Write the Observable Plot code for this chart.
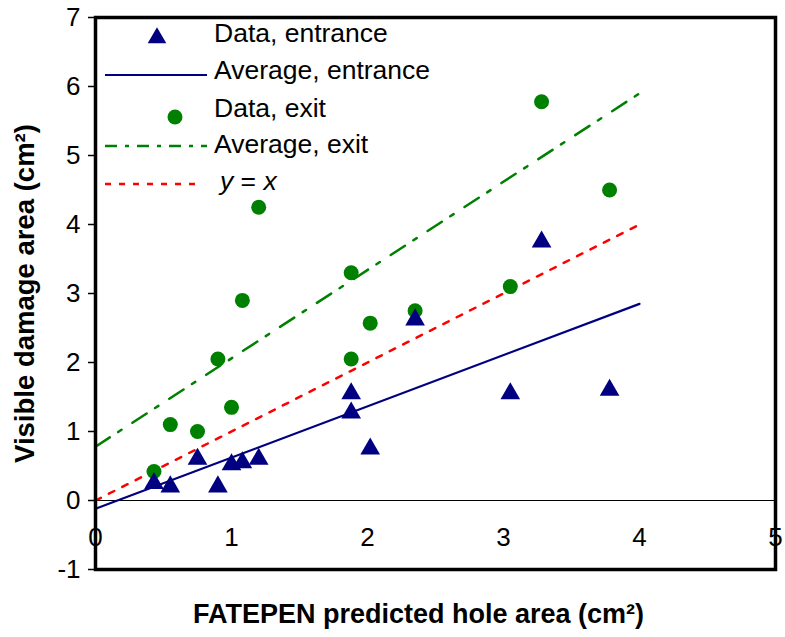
<!DOCTYPE html>
<html>
<head>
<meta charset="utf-8">
<script src="https://cdn.jsdelivr.net/npm/d3@7"></script>
<script src="https://cdn.jsdelivr.net/npm/@observablehq/plot@0.6"></script>
<style>
  html, body { margin: 0; padding: 0; background: #fff; }
  #chart { position: relative; width: 785px; height: 637px; }
</style>
</head>
<body>
<div id="chart"></div>
<script>
// ---- data ----
const entranceX = [0.43, 0.55, 0.75, 0.90, 1.00, 1.08, 1.20, 1.88, 1.88, 2.02, 2.35, 3.05, 3.28, 3.78];
const entranceY = [0.25, 0.20, 0.60, 0.20, 0.52, 0.55, 0.60, 1.55, 1.27, 0.75, 2.62, 1.55, 3.75, 1.60];
const exitX     = [0.43, 0.55, 0.75, 0.90, 1.00, 1.08, 1.20, 1.88, 1.88, 2.02, 2.35, 3.05, 3.28, 3.78];
const exitY     = [0.42, 1.10, 1.00, 2.05, 1.35, 2.90, 4.25, 3.30, 2.05, 2.57, 2.75, 3.10, 5.78, 4.50];
const avgX          = [0, 4];
const entranceAvgY  = [-0.12, 2.85];
const exitAvgY      = [0.78, 5.90];
const identityY     = [0, 4];
const xTicks = [0, 1, 2, 3, 4, 5];
const yTicks = [-1, 0, 1, 2, 3, 4, 5, 6, 7];
const xTitle = "FATEPEN predicted hole area (cm²)";
const yTitle = "Visible damage area (cm²)";
const legendLabels = ["Data, entrance", "Average, entrance", "Data, exit", "Average, exit", "y = x"];

const NAVY = "#000080", GREEN = "#008000", RED = "#ff0000";
const FONT = "Arial, 'Liberation Sans', sans-serif";

const entrance = entranceX.map((x, i) => ({x, y: entranceY[i]}));
const exit = exitX.map((x, i) => ({x, y: exitY[i]}));
const line = ys => avgX.map((x, i) => ({x, y: ys[i]}));

const plot = Plot.plot({
  width: 785,
  height: 637,
  marginLeft: 95,
  marginRight: 10,
  marginTop: 17,
  marginBottom: 68,
  style: {fontFamily: FONT, fontSize: "26px", color: "#000", background: "#fff"},
  x: {domain: [0, 5], axis: null},
  y: {domain: [-1, 7], axis: null},
  marks: [
    Plot.ruleY([0], {stroke: "#000", strokeWidth: 1.2}),
    Plot.line(line(identityY), {x: "x", y: "y", stroke: RED, strokeWidth: 2.5, strokeDasharray: "6,9"}),
    Plot.line(line(exitAvgY), {x: "x", y: "y", stroke: GREEN, strokeWidth: 2.5, strokeDasharray: "17,10,4,13"}),
    Plot.line(line(entranceAvgY), {x: "x", y: "y", stroke: NAVY, strokeWidth: 2.2}),
    Plot.dot(exit, {x: "x", y: "y", r: 7.5, fill: GREEN, stroke: "none"}),
    Plot.dot(entrance, {x: "x", y: "y", symbol: "triangle", r: 7.3, fill: NAVY, stroke: "none"}),
    Plot.axisY(yTicks, {tickSize: 7, tickPadding: 8, label: null, tickFormat: d => String(d), fontSize: 26, stroke: "#000", strokeWidth: 1.5}),
    Plot.text(xTicks, {x: d => d, y: 0, dy: 37, text: d => String(d), fontSize: 26, fill: "#000"}),
    Plot.frame({stroke: "#000", strokeWidth: 3.5}),
    Plot.text([yTitle], {frameAnchor: "left", textAnchor: "middle", lineAnchor: "middle", dx: -70, rotate: -90, fontWeight: "bold", fontSize: 27.5, fill: "#000"}),
    Plot.text([xTitle], {frameAnchor: "bottom", lineAnchor: "middle", dx: -17, dy: 45, fontWeight: "bold", fontSize: 27, fill: "#000"})
  ]
});
document.getElementById("chart").appendChild(plot);

// ---- legend (overlay) ----
const svg = d3.select(plot);
const lg = svg.append("g").attr("font-family", FONT).attr("font-size", 26.5).attr("fill", "#000").attr("text-anchor", "start");
// swatches
lg.append("path").attr("d", d3.symbol(d3.symbolTriangle, 150)()).attr("transform", "translate(157,38)").attr("fill", NAVY);
lg.append("line").attr("x1", 105).attr("x2", 207).attr("y1", 75).attr("y2", 75).attr("stroke", NAVY).attr("stroke-width", 2.2);
lg.append("circle").attr("cx", 175).attr("cy", 117).attr("r", 7.5).attr("fill", GREEN);
lg.append("line").attr("x1", 105).attr("x2", 207).attr("y1", 146).attr("y2", 146).attr("stroke", GREEN).attr("stroke-width", 2.5).attr("stroke-dasharray", "12,8,4,8");
lg.append("line").attr("x1", 105).attr("x2", 200).attr("y1", 184).attr("y2", 184).attr("stroke", RED).attr("stroke-width", 2.5).attr("stroke-dasharray", "6,8");
// labels
const baselines = [42, 79, 117, 153, 190];
legendLabels.forEach((t, i) => {
  const txt = lg.append("text").attr("x", i === 4 ? 220 : 214).attr("y", baselines[i]).attr("text-anchor", "start");
  if (i === 4) {
    txt.append("tspan").attr("font-style", "italic").text("y");
    txt.append("tspan").text(" = ");
    txt.append("tspan").attr("font-style", "italic").text("x");
  } else {
    txt.text(t);
  }
});
</script>
</body>
</html>
